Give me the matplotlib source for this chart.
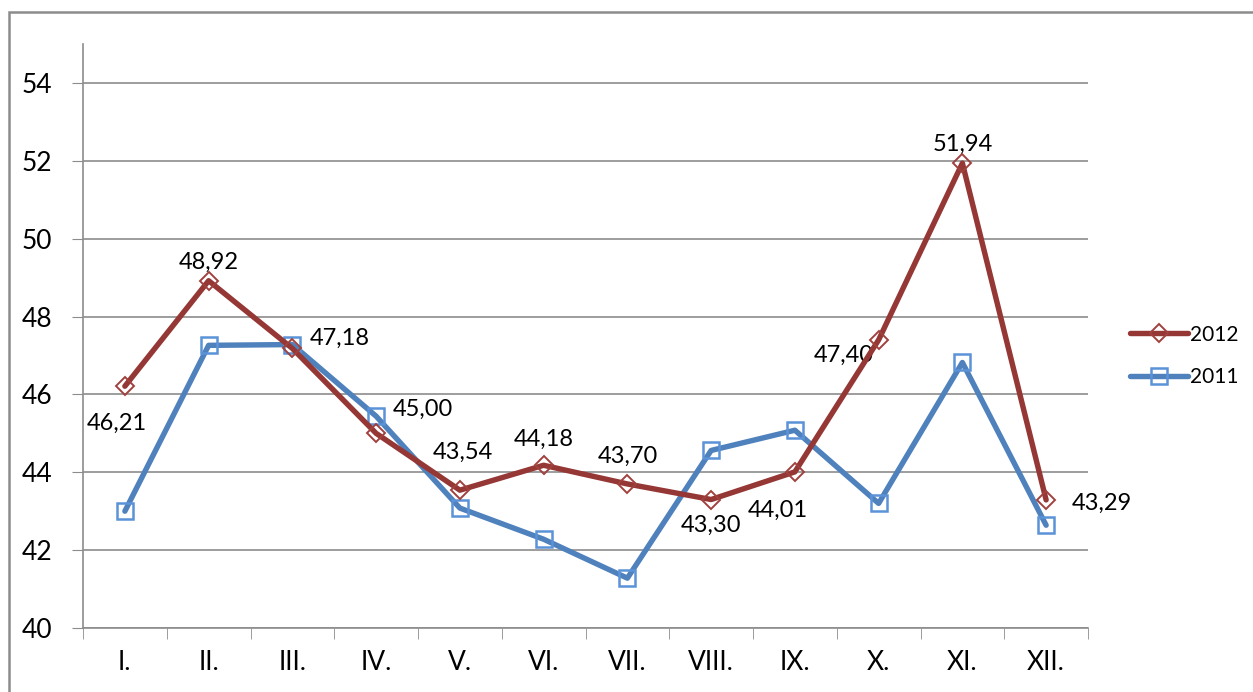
import numpy as np
import matplotlib.pyplot as plt
from matplotlib.patches import Rectangle

plt.rcParams['font.family'] = ['Lato', 'DejaVu Sans']

months = ['I.', 'II.', 'III.', 'IV.', 'V.', 'VI.', 'VII.', 'VIII.', 'IX.', 'X.', 'XI.', 'XII.']
v2012 = [46.21, 48.92, 47.18, 45.00, 43.54, 44.18, 43.70, 43.30, 44.01, 47.40, 51.94, 43.29]
v2011 = [43.00, 47.26, 47.28, 45.44, 43.08, 42.28, 41.28, 44.56, 45.08, 43.20, 46.82, 42.64]
# label offsets (points) for 2012 values
offs = [(-6, -34), (0, 6), (34, 0), (34, 10), (2, 20), (0, 11), (0, 12), (0, -26), (-12, -35), (-25, -19), (0, 6), (40, -10)]

red = '#953735'
blue = '#4F81BD'
grid_c = '#8C8C8C'

fig = plt.figure(figsize=(12.53, 6.92), dpi=100)
ax = fig.add_axes([83/1253, 1 - 628/692, (1088 - 83)/1253, (628 - 44)/692])

x = np.arange(len(months))
ax.plot(x, v2011, color=blue, lw=3.9, marker='s', ms=12, mfc='none',
        mec='#5B93D8', mew=1.8, label='2011', zorder=3, solid_capstyle='round')
ax.plot(x, v2012, color=red, lw=3.9, marker='D', ms=9, mfc='none',
        mec='#A0413E', mew=1.4, label='2012', zorder=4, solid_capstyle='round')

for i, v in enumerate(v2012):
    ax.annotate(f'{v:.2f}'.replace('.', ','), (x[i], v), xytext=offs[i],
                textcoords='offset points', ha='center', va='bottom', fontsize=17)

ax.set_xlim(-0.5, 11.5)
ax.set_ylim(40, 55)
ax.set_yticks(np.arange(40, 55, 2))
ax.set_xticks(x)
ax.set_xticklabels(months)
ax.set_xticks(np.arange(-0.5, 12, 1), minor=True)
ax.tick_params(axis='x', which='major', length=0, pad=16, labelsize=19)
ax.tick_params(axis='x', which='minor', length=8, color=grid_c, direction='out')
ax.tick_params(axis='y', length=8, color=grid_c, pad=14, labelsize=19)
ax.grid(axis='y', color=grid_c, lw=1.2)
ax.set_axisbelow(True)
for s in ['top', 'right']:
    ax.spines[s].set_visible(False)
for s in ['left', 'bottom']:
    ax.spines[s].set_color(grid_c)
    ax.spines[s].set_linewidth(1.2)

h, l = ax.get_legend_handles_labels()
fig.legend(h[::-1], l[::-1], loc='center left', bbox_to_anchor=(1111/1253, 1 - 356/692),
           frameon=False, fontsize=15, handlelength=2.8, handletextpad=0.1, labelspacing=1.1)

fig.add_artist(Rectangle((9/1253, -0.1), 1.2, 1.1 - 12/692, transform=fig.transFigure,
                         fill=False, ec='#8C8C8C', lw=1.8, clip_on=False))

fig.savefig('out.png', dpi=100)
